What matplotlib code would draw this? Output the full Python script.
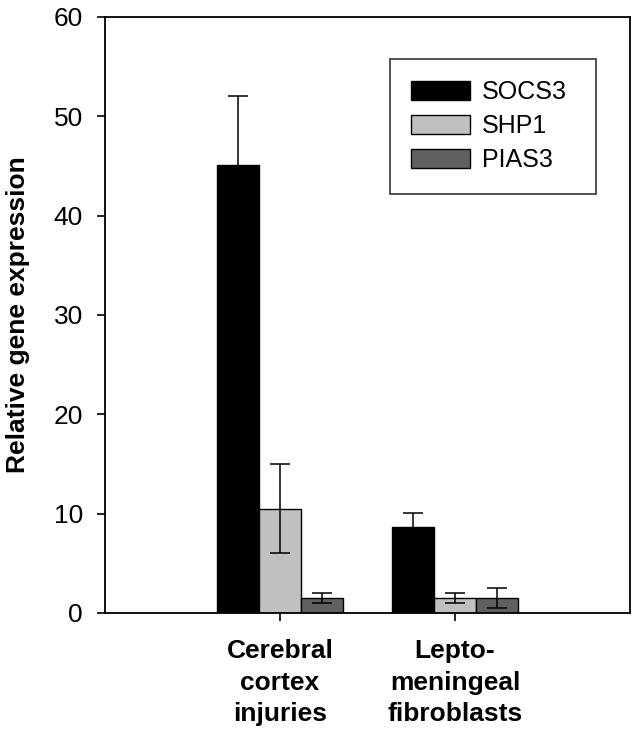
import numpy as np
import matplotlib
matplotlib.use('Agg')
import matplotlib.pyplot as plt

plt.rcParams['font.family'] = ['Liberation Sans', 'DejaVu Sans']

# Datos
categorias = ['Cerebral\ncortex\ninjuries', 'Lepto-\nmeningeal\nfibroblasts']
genes = ['SOCS3', 'SHP1', 'PIAS3']
socs3 = [45.1, 8.7]
shp1 = [10.5, 1.5]
pias3 = [1.5, 1.5]
socs3_err = [6.9, 1.4]
shp1_err = [4.5, 0.5]
pias3_err = [0.5, 1.0]
colores = ['#000000', '#c0c0c0', '#606060']

fig = plt.figure(figsize=(6.41, 7.31), dpi=100)
ax = fig.add_axes([105 / 641, 118 / 731, 525 / 641, 596 / 731])

x = np.array([1, 2])
ancho = 0.24
series = [(socs3, socs3_err), (shp1, shp1_err), (pias3, pias3_err)]
for i, (vals, errs) in enumerate(series):
    pos = x + (i - 1) * ancho
    ax.bar(pos, vals, ancho, color=colores[i], edgecolor='black', linewidth=1,
           label=genes[i], zorder=2)
    ax.errorbar(pos, vals, yerr=errs, fmt='none', ecolor='black', elinewidth=1.1,
                capsize=7.5, capthick=1.1, zorder=3)

ax.set_xlim(0, 3)
ax.set_ylim(0, 60)
ax.set_yticks(range(0, 61, 10))
ax.set_xticks(x)
ax.set_xticklabels(categorias, fontsize=19, fontweight='bold', linespacing=1.38)
ax.tick_params(axis='y', direction='out', length=6, width=1.2, labelsize=19, pad=10)
ax.tick_params(axis='x', direction='out', length=6, width=1.2, pad=13)
ax.set_ylabel('Relative gene expression', fontsize=19, fontweight='bold', labelpad=17)
for s in ax.spines.values():
    s.set_linewidth(1.3)

leg = ax.legend(loc='upper left', bbox_to_anchor=(0.543, 0.6, 0.392, 0.3295),
                mode='expand', borderaxespad=0,
                fontsize=18, frameon=True, fancybox=False, edgecolor='black',
                handlelength=2.36, handleheight=0.8, handletextpad=0.45,
                labelspacing=0.4, borderpad=0.85)
leg.get_frame().set_linewidth(1.2)

plt.savefig('out.png', dpi=100)
